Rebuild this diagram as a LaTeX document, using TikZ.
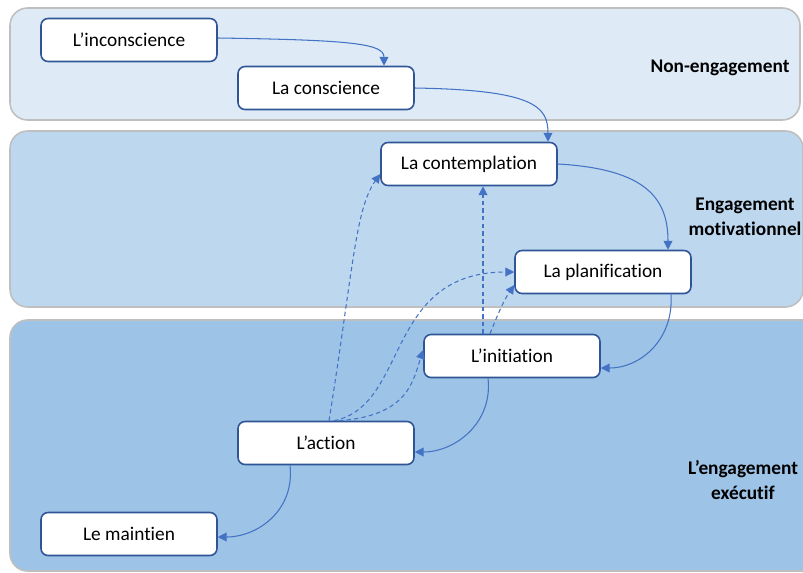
\documentclass[tikz,border=0pt]{standalone}
\usepackage{fontspec}
\setmainfont{Carlito}[Ligatures=NoCommon]
\usetikzlibrary{arrows.meta}

\definecolor{bandA}{HTML}{DEEBF7}
\definecolor{bandB}{HTML}{BDD7EE}
\definecolor{bandC}{HTML}{9DC3E6}
\definecolor{bandline}{HTML}{BFBFBF}
\definecolor{boxline}{HTML}{2F5597}
\definecolor{arrowblue}{HTML}{4472C4}

\tikzset{
	band/.style={draw=bandline, line width=0.9pt, rounded corners=10pt},
	stage/.style={draw=boxline, fill=white, line width=0.9pt, rounded corners=4pt,
		minimum width=3.52cm, minimum height=0.86cm, inner sep=0pt, font=\fontsize{11}{13}\selectfont},
	level/.style={align=center, font=\bfseries\fontsize{11}{14}\selectfont},
	flow/.style={->, draw=arrowblue, line width=0.6pt, >={Triangle[length=5pt, width=5pt]}},
	back/.style={flow, dash pattern=on 2.5pt off 1.8pt}
}

\begin{document}
\begin{tikzpicture}[x=0.02cm, y=-0.02cm]
	\useasboundingbox (0,0) rectangle (803,572);
	\clip (0,0) rectangle (803,572);

	\path[band, fill=bandA] (10,  8) rectangle (800,120);
	\path[band, fill=bandB] (10,131) rectangle (803,307);
	\path[band, fill=bandC] (10,320) rectangle (830,571);

	\node[level] (L1-T) at (720, 68) {Non-engagement};
	\node[level] (L2-T) at (745,217) {Engagement\\motivationnel};
	\node[level] (L3-T) at (743,480) {L’engagement\\exécutif};

	\node[stage] (L1-00) at (129, 40) {L’inconscience};
	\node[stage] (L1-01) at (326, 88) {La conscience};

	\node[stage] (L2-00) at (469,164) {La contemplation};
	\node[stage] (L2-01) at (603,272) {La planification};

	\node[stage] (L3-00) at (512,356) {L’initiation};
	\node[stage] (L3-01) at (326,443) {L’action};
	\node[stage] (L3-02) at (129,534) {Le maintien};

	\coordinate (L3-00-up) at ([xshift=-0.58cm]L3-00.north);

	\draw[flow] ([yshift=0.04cm]L1-00.east) .. controls +(135,2) and +(0,-22) .. ([xshift=1.16cm]L1-01.north);
	\draw[flow] (L1-01.east) .. controls +(120,2) and +(0,-35) .. ([xshift=1.58cm]L2-00.north);
	\draw[flow] (L2-00.east) .. controls +(90,5) and +(0,-50) .. ([xshift=1.3cm]L2-01.north);
	\draw[flow] ([xshift=1.36cm]L2-01.south) .. controls +(3,45) and +(40,0) .. ([yshift=-0.24cm]L3-00.east);
	\draw[flow] ([xshift=-0.48cm]L3-00.south) .. controls +(5,45) and +(40,0) .. ([yshift=-0.18cm]L3-01.east);
	\draw[flow] ([xshift=-0.72cm]L3-01.south) .. controls +(5,45) and +(40,0) .. ([yshift=-0.06cm]L3-02.east);

	\draw[back] ([xshift=0.06cm]L3-01.north) .. controls +(24,-150) and +(-25,35) .. ([yshift=-0.2cm]L2-00.west);
	\draw[back] ([xshift=0.16cm]L3-01.north) .. controls +(75,-15) and +(-130,0) .. (L2-01.west);
	\draw[back] ([xshift=0.26cm]L3-01.north) .. controls +(70,-5) and +(-10,30) .. ([yshift=0.12cm]L3-00.west);
	\draw[back] (L3-00-up) -- (L3-00-up |- L2-00.south);
	\draw[back] ([xshift=-0.44cm]L3-00.north) .. controls +(10,-25) and +(-10,15) .. ([yshift=-0.26cm]L2-01.west);

\end{tikzpicture}
\end{document}
